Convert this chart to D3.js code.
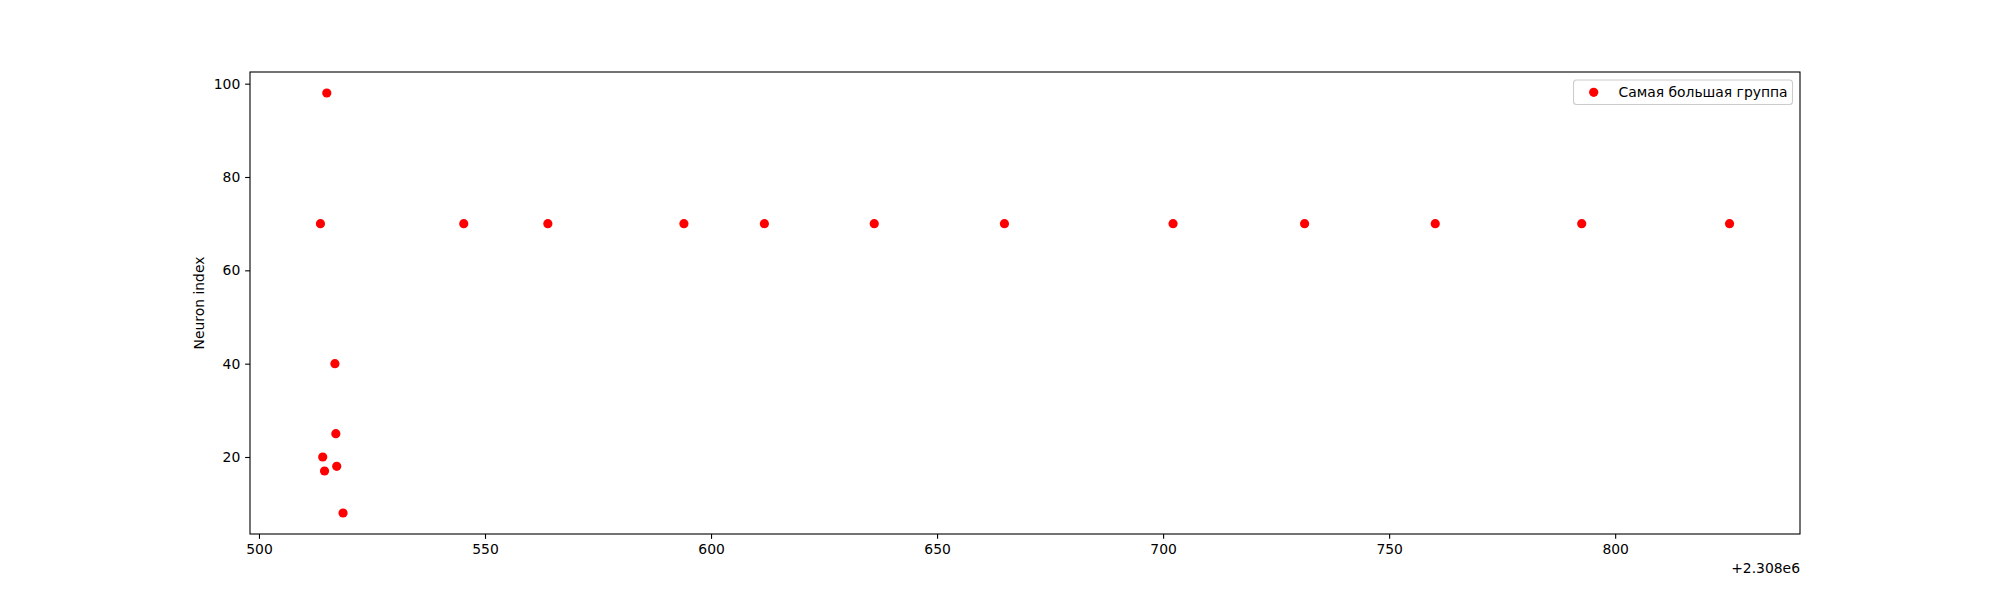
<!DOCTYPE html>
<html lang="en">
<head>
<meta charset="UTF-8">
<title>Neuron index scatter</title>
<script src="https://d3js.org/d3.v7.min.js"></script>
<style>
body {
  margin: 0;
  background: white;
}
svg text {
  font-family: "DejaVu Sans", sans-serif;
}
</style>
</head>
<body>
<div id="chart"></div>
<script>
// x values are shown relative to the offset +2.308e6
const xOffsetLabel = "+2.308e6";
const spikeTimes = [513.6, 515.0, 516.8, 517.0, 514.1, 514.5, 517.2, 518.6,
                    545.3, 563.9, 594.0, 611.8, 636.1, 664.9, 702.2, 731.3,
                    760.2, 792.6, 825.3];
const neuronIds = [70, 98, 40, 25, 20, 17, 18, 8,
                   70, 70, 70, 70, 70, 70, 70, 70,
                   70, 70, 70];
const xTicks = [500, 550, 600, 650, 700, 750, 800];
const yTicks = [20, 40, 60, 80, 100];
const seriesName = "Самая большая группа";
const yLabel = "Neuron index";

const W = 2000, H = 600;
const margin = {left: 250, right: 200, top: 72, bottom: 66};
const fs = 13.9;     // 10pt at 100dpi
const tickLen = 4.86;
const dotR = 4.6;

const svg = d3.select("#chart").append("svg")
  .attr("width", W).attr("height", H);

// matplotlib style 5% padding
function padded(vals) {
  const [lo, hi] = d3.extent(vals);
  const p = (hi - lo) * 0.05;
  return [lo - p, hi + p];
}

const x = d3.scaleLinear()
  .domain(padded(spikeTimes))
  .range([margin.left, W - margin.right]);
const y = d3.scaleLinear()
  .domain(padded(neuronIds))
  .range([H - margin.bottom, margin.top]);

// axes
const xAxis = svg.append("g")
  .attr("transform", `translate(0,${H - margin.bottom})`)
  .call(d3.axisBottom(x).tickValues(xTicks).tickFormat(d3.format("d"))
    .tickSize(tickLen).tickPadding(tickLen));
const yAxis = svg.append("g")
  .attr("transform", `translate(${margin.left},0)`)
  .call(d3.axisLeft(y).tickValues(yTicks).tickFormat(d3.format("d"))
    .tickSize(tickLen).tickPadding(tickLen));

[xAxis, yAxis].forEach(function(g) {
  g.select(".domain").remove();
  g.selectAll(".tick line").attr("stroke", "black").attr("stroke-width", 1.1);
  g.selectAll(".tick text")
    .attr("fill", "black")
    .style("font-size", fs + "px")
    .style("font-family", "DejaVu Sans, sans-serif");
});

// points
svg.append("g").selectAll("circle")
  .data(spikeTimes.map((t, i) => [t, neuronIds[i]]))
  .enter().append("circle")
  .attr("cx", d => x(d[0]))
  .attr("cy", d => y(d[1]))
  .attr("r", dotR)
  .attr("fill", "#ff0000");

// spines
svg.append("rect")
  .attr("x", margin.left).attr("y", margin.top)
  .attr("width", W - margin.left - margin.right)
  .attr("height", H - margin.top - margin.bottom)
  .attr("fill", "none")
  .attr("stroke", "black")
  .attr("stroke-width", 1.1);

// offset text
svg.append("text")
  .attr("x", W - margin.right)
  .attr("y", 573)
  .attr("text-anchor", "end")
  .style("font-size", fs + "px")
  .text(xOffsetLabel);

// y label
svg.append("text")
  .attr("transform", `translate(204,${(margin.top + H - margin.bottom) / 2}) rotate(-90)`)
  .attr("text-anchor", "middle")
  .style("font-size", fs + "px")
  .text(yLabel);

// legend
const lg = svg.append("g");
lg.append("rect")
  .attr("x", 1573.5).attr("y", 80)
  .attr("width", 219).attr("height", 24.5)
  .attr("rx", 3).attr("ry", 3)
  .attr("fill", "white").attr("fill-opacity", 0.8)
  .attr("stroke", "#cccccc").attr("stroke-width", 1.1);
lg.append("circle")
  .attr("cx", 1593.7).attr("cy", 92.3)
  .attr("r", dotR)
  .attr("fill", "#ff0000");
lg.append("text")
  .attr("x", 1618.5).attr("y", 92.3)
  .attr("dy", "0.35em")
  .style("font-size", fs + "px")
  .text(seriesName);
</script>
</body>
</html>
